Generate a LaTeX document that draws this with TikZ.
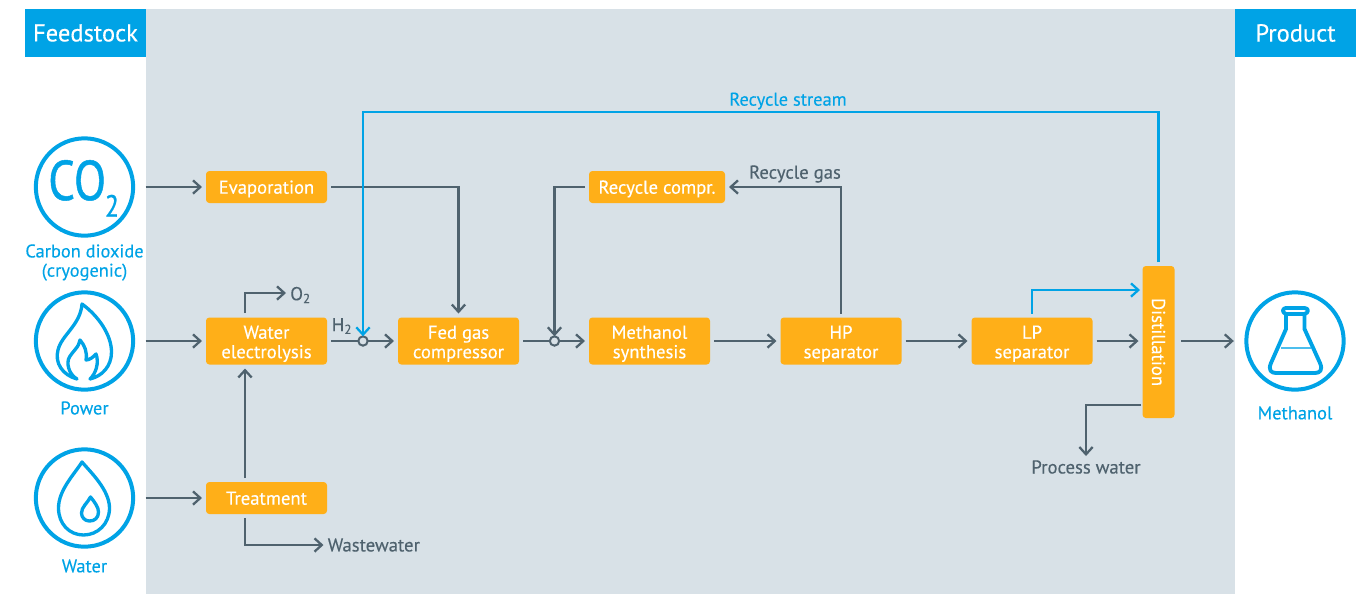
\documentclass[tikz,border=0pt]{standalone}
\usepackage{graphicx}
\usepackage{fontspec}
\setmainfont[FakeBold=0.25]{PT Sans}
\newfontfamily\iconfont[FakeBold=0.9]{PT Sans}
\usetikzlibrary{arrows.meta}
\definecolor{band}{HTML}{D8E1E7}
\definecolor{headblue}{HTML}{00A3E6}
\definecolor{unitorange}{HTML}{FFAF18}
\definecolor{flowgrey}{HTML}{4F626E}
\newcommand{\unitstrut}{\rule{0pt}{14pt}}
\tikzset{
  unit/.style={fill=unitorange,text=white,rounded corners=2.5pt,inner sep=0pt,outer sep=3pt,
    minimum width=90.75pt,minimum height=35.25pt,align=center,
    font=\fontsize{14}{14.6}\selectfont},
  unitlow/.style={unit,minimum height=24pt,text height=13pt,text depth=3pt},
  feed/.style={circle,draw=headblue,line width=3pt,fill=white,minimum size=73pt,inner sep=0pt,outer sep=9.4pt},
  head/.style={fill=headblue,text=white,minimum width=91pt,minimum height=36pt,inner sep=0pt,
    font=\fontsize{18.4}{20}\selectfont},
  feedlabel/.style={text=headblue,inner sep=0pt,align=center,font=\fontsize{13.8}{14.4}\selectfont},
  greylabel/.style={text=flowgrey,inner sep=3pt,font=\fontsize{14}{15}\selectfont},
  junction/.style={circle,draw=flowgrey,fill=band,line width=1.5pt,minimum size=7pt,inner sep=0pt,outer sep=0pt},
  flow/.style={draw=flowgrey,line width=1.7pt,-{Straight Barb[length=5.5pt,width=10pt,line width=1.7pt]}},
  recycle/.style={draw=headblue,line width=1.7pt,-{Straight Barb[length=5.5pt,width=10pt,line width=1.7pt]}},
  icon/.style={draw=headblue,line width=2.5pt,line join=round,line cap=round}
}
\begin{document}
\begin{tikzpicture}[x=0.75pt,y=-0.75pt]
\useasboundingbox (0,0) rectangle (1370,594);
\fill[band] (146,9) rectangle (1235,594);
% headers
\node[head] (feedstock) at (85.5,33) {Feedstock};
\node[head] (product) at (1295.5,33) {Product};
% feeds
\node[feed] (co2) at (84.5,187) {};
\node[feed] (power) at (84.5,341) {};
\node[feed] (water) at (84.5,498) {};
\node[feed] (methanol) at (1295,341) {};
\node[text=headblue,inner sep=0pt,xscale=0.84,anchor=base west,font=\iconfont\fontsize{42}{45}\selectfont] (co2text) at (48,200)
  {CO\kern-1pt\raisebox{-12.5pt}{\fontsize{23}{25}\selectfont 2}};
\node[feedlabel] (co2label) at (84.5,262.5) {Carbon dioxide\\(cryogenic)};
\node[feedlabel] (powerlabel) at (84.5,408) {Power};
\node[feedlabel] (waterlabel) at (84.5,566) {Water};
\node[feedlabel] (methlabel) at (1295,413) {Methanol};
% icons
\begin{scope}[shift={(84.5,341)}]
\draw[icon] (-7.5,38) .. controls (-22,34) and (-30,22) .. (-26.5,9) .. controls (-23,-6) and (-4,-16) .. (-2.5,-37)
  .. controls (14,-25) and (27,-6) .. (27,11) .. controls (27,25) and (18,35) .. (5.5,38)
  .. controls (11,33) and (15,22) .. (11.5,13) .. controls (9,16) and (5,19) .. (1.5,19)
  .. controls (3,11) and (0,4) .. (-4.5,-1) .. controls (-5,6) and (-13,11) .. (-16,18)
  .. controls (-18,26) and (-14,34) .. (-7.5,38) -- cycle;
\end{scope}
\begin{scope}[shift={(84.5,498)}]
\draw[icon] (-2.5,-36) .. controls (6,-26) and (25,-8) .. (25,10) .. controls (25,26) and (13,37) .. (-1,37)
  .. controls (-15,37) and (-26,26) .. (-26,10) .. controls (-26,-8) and (-10,-24) .. (-2.5,-36) -- cycle;
\draw[icon] (6,-1) .. controls (10,4) and (14,9) .. (14,14) .. controls (14,20) and (10,23) .. (5,23)
  .. controls (0,23) and (-3,19) .. (-3,15) .. controls (-3,9) and (3,5) .. (6,-1) -- cycle;
\end{scope}
\begin{scope}[shift={(1295,341)}]
\draw[icon,line width=2.9pt] (-9,-27) -- (-9,-12) -- (-24,22) .. controls (-27,29) and (-24,32) .. (-19,32) -- (20,32)
  .. controls (25,32) and (28,29) .. (25,22) -- (9.5,-12) -- (9.5,-27);
\draw[icon,line width=2.9pt] (-9,-27) -- (9.5,-27) .. controls (14,-28) and (14,-33) .. (9.5,-33) -- (-9,-33) .. controls (-13,-33) and (-13,-28) .. (-9,-27) -- cycle;
\draw[headblue!70,line width=1.2pt] (-14.5,7) -- (15.5,7);
\end{scope}
% units
\node[unitlow] (evap) at (266.5,187) {Evaporation};
\node[unit] (electro) at (266.5,341) {\unitstrut Water\\electrolysis};
\node[unitlow] (treat) at (266.5,498) {Treatment};
\node[unit] (fedgas) at (458.5,341) {\unitstrut Fed gas\\compressor};
\node[unitlow,minimum width=102pt] (reccomp) at (657,187) {Recycle compr.};
\node[unit] (synth) at (649.5,341) {\unitstrut Methanol\\synthesis};
\node[unit] (hpsep) at (841,341) {\unitstrut HP\\separator};
\node[unit] (lpsep) at (1032,341) {\unitstrut LP\\separator};
\node[unit,minimum width=24pt,minimum height=114pt] (distill) at (1158.5,342) {\rotatebox{-90}{Distillation}};
% junctions and labels
\node[junction] (jh2) at (363,341) {};
\node[junction] (jrec) at (554.5,341) {};
\node[greylabel,anchor=west] (o2) at (286,295) {O\textsubscript{2}};
\node[greylabel] (h2) at (342,326) {H\textsubscript{2}};
\node[greylabel,anchor=west] (waste) at (323.5,545) {Wastewater};
\node[greylabel] (procw) at (1086,467) {Process water};
\node[greylabel] (recgas) at (795,174) {Recycle gas};
\node[feedlabel] (recstream) at (788,101) {Recycle stream};
% free ends
\coordinate (eout) at (245,313);
\coordinate (o2in) at (286,293);
\coordinate (tup) at (245,478);
\coordinate (tdown) at (245,518);
\coordinate (lpin) at (1140,290);
\coordinate (dout) at (1141,405);
\coordinate (rectop) at (363,112);
\coordinate (lineend) at (1181,341);
% flows
\path[flow] (co2) -- (evap);
\path[flow] (power) -- (electro);
\path[flow] (water) -- (treat);
\path[flow] (evap) -| (fedgas);
\path[flow] (eout) |- (o2in);
\path[flow] (tup) -- (tup |- electro.south);
\path[flow] (tdown) |- (waste.west);
\path[draw=flowgrey,line width=1.7pt] (electro) -- (jh2);
\path[flow] (jh2) -- (fedgas);
\path[draw=flowgrey,line width=1.7pt] (fedgas) -- (jrec);
\path[flow] (jrec) -- (synth);
\path[flow] (synth) -- (hpsep);
\path[flow] (hpsep) -- (lpsep);
\path[flow] (lpsep) -- (lpsep -| distill.west);
\path[flow] (hpsep) |- (reccomp);
\path[flow] (reccomp) -| (jrec);
\path[flow] (dout) -| (procw);
\path[flow] (lineend) -- (methanol);
% recycle
\path[recycle] (lpsep) |- (lpin);
\path[recycle] (distill) |- (rectop) -- (jh2);
\end{tikzpicture}
\end{document}
